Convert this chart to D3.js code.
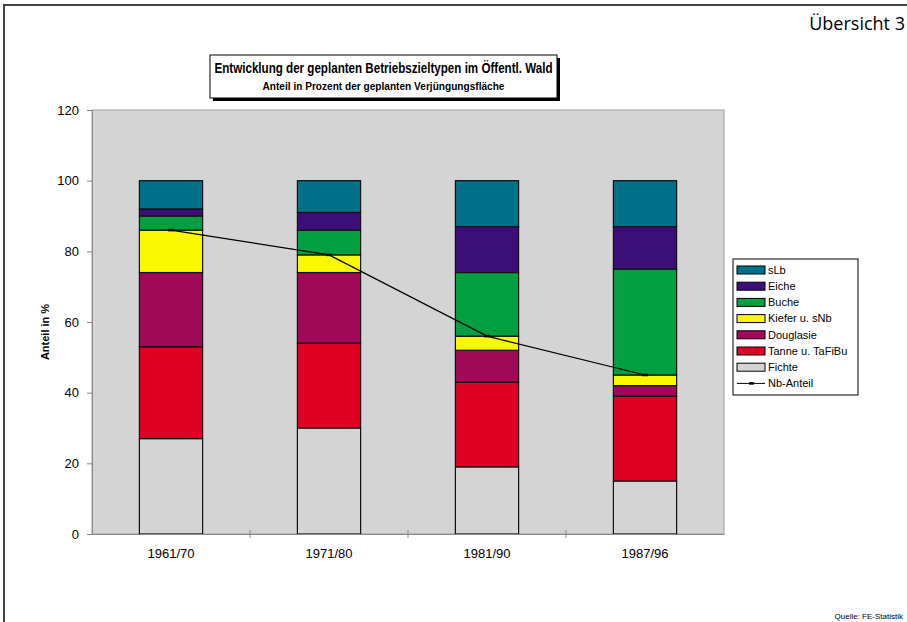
<!DOCTYPE html>
<html>
<head>
<meta charset="utf-8">
<script src="https://cdn.jsdelivr.net/npm/d3@7"></script>
<style>
  body { margin: 0; background: #fff; }
  svg { display: block; font-family: "Liberation Sans", Arial, sans-serif; }
</style>
</head>
<body>
<div id="chart"></div>
<script>
// periods on the x axis
const periods = ["1961/70", "1971/80", "1981/90", "1987/96"];

// stacked series, bottom to top
const fichte    = [27, 30, 19, 15];
const tanne     = [26, 24, 24, 24];
const douglasie = [21, 20, 9, 3];
const kiefer    = [12, 5, 4, 3];
const buche     = [4, 7, 18, 30];
const eiche     = [2, 5, 13, 12];
const slb       = [8, 9, 13, 13];

// Nadelbaum-Anteil line
const nbAnteil = [86, 79, 56, 45];

const yTicks = [0, 20, 40, 60, 80, 100, 120];

const seriesNames = ["Fichte", "Tanne u. TaFiBu", "Douglasie", "Kiefer u. sNb", "Buche", "Eiche", "sLb"];
const seriesValues = [fichte, tanne, douglasie, kiefer, buche, eiche, slb];
const seriesColors = ["#d4d4d4", "#e00024", "#a00858", "#f8f800", "#00a040", "#3c0f78", "#007088"];

const width = 907, height = 622;
const plot = { left: 92, right: 724, top: 110, bottom: 534 };

const svg = d3.select("#chart").append("svg")
    .attr("width", width)
    .attr("height", height);

// page frame (top + left edge)
svg.append("path")
    .attr("d", `M4,${height} V5 H${width}`)
    .attr("fill", "none")
    .attr("stroke", "#444")
    .attr("stroke-width", 2);

svg.append("text")
    .attr("x", 905).attr("y", 30)
    .attr("text-anchor", "end")
    .style("font-family", "'Open Sans', 'Noto Sans', sans-serif")
    .style("font-size", "18px")
    .text("Übersicht 3");

const x = d3.scaleBand()
    .domain(periods)
    .range([plot.left, plot.right])
    .paddingInner(0.6)
    .paddingOuter(0.3);

const y = d3.scaleLinear()
    .domain([0, 120])
    .range([plot.bottom, plot.top]);

// plot background
svg.append("rect")
    .attr("x", plot.left).attr("y", plot.top)
    .attr("width", plot.right - plot.left)
    .attr("height", plot.bottom - plot.top)
    .attr("fill", "#d4d4d4")
    .attr("stroke", "#a0a0a0")
    .attr("stroke-width", 1);

// stack the data
const rows = periods.map((p, i) => {
    const r = { period: p };
    seriesNames.forEach((n, k) => r[n] = seriesValues[k][i]);
    return r;
});
const stacked = d3.stack().keys(seriesNames)(rows);

const layers = svg.append("g").selectAll("g")
    .data(stacked)
    .join("g")
    .attr("fill", (d, i) => seriesColors[i]);

layers.selectAll("rect")
    .data(d => d)
    .join("rect")
    .attr("x", d => x(d.data.period))
    .attr("y", d => y(d[1]))
    .attr("width", x.bandwidth())
    .attr("height", d => y(d[0]) - y(d[1]))
    .attr("stroke", "#111")
    .attr("stroke-width", 1.2);

// axes
const yAxis = svg.append("g")
    .attr("transform", `translate(${plot.left},0)`)
    .call(d3.axisLeft(y).tickValues(yTicks).tickSize(5).tickPadding(8));
yAxis.select(".domain").attr("stroke", "#888");
yAxis.selectAll(".tick line").attr("stroke", "#888");
yAxis.selectAll("text").style("font-size", "13px").attr("fill", "#000");

const xAxis = svg.append("g")
    .attr("transform", `translate(0,${plot.bottom})`)
    .call(d3.axisBottom(x).tickSize(0).tickPadding(15));
xAxis.select(".domain").attr("stroke", "#888");
xAxis.selectAll("text").style("font-size", "13px").attr("fill", "#000");

// tick marks between categories
const step = x.step();
svg.append("g").selectAll("line")
    .data(d3.range(1, periods.length))
    .join("line")
    .attr("x1", d => plot.left + d * step)
    .attr("x2", d => plot.left + d * step)
    .attr("y1", plot.bottom - 4)
    .attr("y2", plot.bottom + 4)
    .attr("stroke", "#888");

// Nb-Anteil line
const line = d3.line()
    .x((d, i) => x(periods[i]) + x.bandwidth() / 2)
    .y(d => y(d));
svg.append("path")
    .datum(nbAnteil)
    .attr("d", line)
    .attr("fill", "none")
    .attr("stroke", "#000")
    .attr("stroke-width", 1.2);
svg.append("g").selectAll("line")
    .data(nbAnteil)
    .join("line")
    .attr("x1", (d, i) => x(periods[i]) + x.bandwidth() / 2 - 3)
    .attr("x2", (d, i) => x(periods[i]) + x.bandwidth() / 2 + 3)
    .attr("y1", d => y(d))
    .attr("y2", d => y(d))
    .attr("stroke", "#000")
    .attr("stroke-width", 2.5);

// y axis title
svg.append("text")
    .attr("transform", `translate(49,${(plot.top + plot.bottom) / 2 + 10}) rotate(-90)`)
    .attr("text-anchor", "middle")
    .style("font-size", "11px")
    .style("font-weight", "bold")
    .text("Anteil in %");

// title box with shadow
const tb = { x: 210, y: 55, w: 347, h: 43 };
svg.append("rect")
    .attr("x", tb.x + 3).attr("y", tb.y + 3)
    .attr("width", tb.w).attr("height", tb.h)
    .attr("fill", "#000");
svg.append("rect")
    .attr("x", tb.x).attr("y", tb.y)
    .attr("width", tb.w).attr("height", tb.h)
    .attr("fill", "#fff")
    .attr("stroke", "#000");
svg.append("text")
    .attr("x", tb.x + tb.w / 2).attr("y", tb.y + 18)
    .attr("text-anchor", "middle")
    .attr("textLength", 338)
    .attr("lengthAdjust", "spacingAndGlyphs")
    .style("font-size", "14px")
    .style("font-weight", "bold")
    .text("Entwicklung der geplanten Betriebszieltypen im Öffentl. Wald");
svg.append("text")
    .attr("x", tb.x + tb.w / 2).attr("y", tb.y + 35)
    .attr("text-anchor", "middle")
    .attr("textLength", 242)
    .attr("lengthAdjust", "spacingAndGlyphs")
    .style("font-size", "11px")
    .style("font-weight", "bold")
    .text("Anteil in Prozent der geplanten Verjüngungsfläche");

// legend
const lg = svg.append("g").attr("transform", "translate(733,259)");
lg.append("rect")
    .attr("width", 125).attr("height", 136)
    .attr("fill", "#fff")
    .attr("stroke", "#000");
const legendItems = seriesNames.map((n, i) => ({ name: n, color: seriesColors[i] })).reverse();
legendItems.push({ name: "Nb-Anteil", line: true });
const li = lg.selectAll("g.item")
    .data(legendItems)
    .join("g")
    .attr("class", "item")
    .attr("transform", (d, i) => `translate(4,${11 + i * 16.2})`);
li.filter(d => !d.line).append("rect")
    .attr("x", 0).attr("y", -4)
    .attr("width", 28).attr("height", 8)
    .attr("fill", d => d.color)
    .attr("stroke", "#000");
li.filter(d => d.line).append("line")
    .attr("x1", 0).attr("x2", 28)
    .attr("stroke", "#000");
li.filter(d => d.line).append("line")
    .attr("x1", 12).attr("x2", 17)
    .attr("stroke", "#000")
    .attr("stroke-width", 2.5);
li.append("text")
    .attr("x", 31).attr("dy", "0.35em")
    .style("font-size", "11px")
    .text(d => d.name);

svg.append("text")
    .attr("x", 903).attr("y", 619)
    .attr("text-anchor", "end")
    .attr("fill", "#000")
    .style("font-size", "8px")
    .text("Quelle: FE-Statistik");
</script>
</body>
</html>
